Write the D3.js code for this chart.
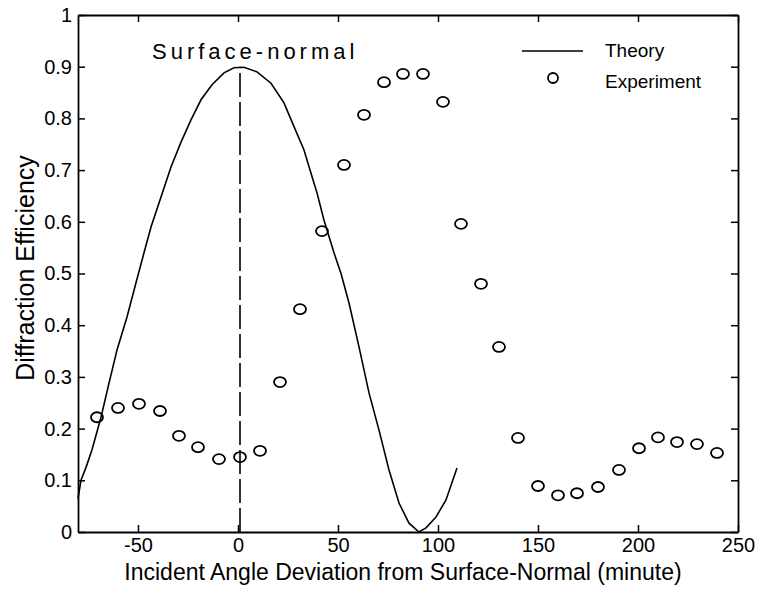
<!DOCTYPE html>
<html>
  <head>
    <meta charset="utf-8" />
    <title>Diffraction Efficiency</title>
    <script src="https://d3js.org/d3.v7.min.js"></script>
    <style>
      body {
        margin: 0;
        background: #fff;
      }
      svg {
        font-family: "Liberation Sans", Arial, sans-serif;
      }
    </style>
  </head>
  <body>
    <svg width="757" height="591"></svg>

    <script>
      // theory curve
      const theoryX = [-80, -78.5, -76, -73, -68.5, -64.5, -60.5, -55.5, -51, -47, -43.5, -38.5,
        -33.5, -28.5, -23.5, -18.5, -13, -7, -2, 3, 9.5, 16.5, 23, 28, 33, 36.5, 39.5, 43, 48,
        51.5, 55.5, 60.5, 65.5, 70.5, 75.5, 80.5, 85.5, 90.5, 94, 99, 104, 109.5];
      const theoryY = [0.065, 0.1, 0.125, 0.159, 0.222, 0.288, 0.352, 0.416, 0.482, 0.54, 0.59, 0.648,
        0.706, 0.754, 0.797, 0.836, 0.865, 0.888, 0.898, 0.899, 0.89, 0.868, 0.83, 0.784, 0.739, 0.694,
        0.656, 0.603, 0.54, 0.5, 0.443, 0.358, 0.269, 0.197, 0.12, 0.056, 0.017, 0.0, 0.008, 0.029,
        0.062, 0.124];

      // experiment points
      const expX = [-70.5, -60, -49.5, -39, -29.5, -20, -9.5, 1, 11, 21, 31, 42, 53, 63, 73, 82.5,
        92.5, 102.5, 111.5, 121.5, 130.5, 140, 150, 160, 169.5, 180, 190.5, 200.5, 210, 219.5, 229.5, 239.5];
      const expY = [0.222, 0.24, 0.248, 0.234, 0.186, 0.164, 0.141, 0.145, 0.157, 0.29, 0.431, 0.582,
        0.71, 0.807, 0.87, 0.886, 0.886, 0.832, 0.596, 0.48, 0.358, 0.182, 0.089, 0.071, 0.075, 0.087,
        0.12, 0.162, 0.183, 0.174, 0.17, 0.153];

      const xTicks = [-50, 0, 50, 100, 150, 200, 250];
      const yTicks = [0, 0.1, 0.2, 0.3, 0.4, 0.5, 0.6, 0.7, 0.8, 0.9, 1];
      const yTickLabels = ["0", "0.1", "0.2", "0.3", "0.4", "0.5", "0.6", "0.7", "0.8", "0.9", "1"];

      const normalX = 1;
      const normalTop = 0.9;

      const svg = d3.select("svg");

      const x = d3.scaleLinear().domain([-80, 250]).range([78, 738]);
      const y = d3.scaleLinear().domain([0, 1]).range([532, 15]);

      function styleAxis(sel) {
        sel.select(".domain").attr("stroke", "#000").attr("stroke-width", 1.8);
        sel.selectAll(".tick line").attr("stroke", "#000").attr("stroke-width", 1.5);
        sel.selectAll(".tick text").attr("fill", "#000").attr("font-size", 20);
      }

      svg.append("g")
        .attr("transform", `translate(0,${y(0)})`)
        .call(d3.axisBottom(x).tickValues(xTicks).tickFormat(d => String(d))
          .tickSizeInner(-7).tickSizeOuter(0).tickPadding(6))
        .call(styleAxis);

      svg.append("g")
        .attr("transform", `translate(0,${y(1)})`)
        .call(d3.axisTop(x).tickValues(xTicks).tickFormat("")
          .tickSizeInner(-7).tickSizeOuter(0))
        .call(styleAxis);

      svg.append("g")
        .attr("transform", `translate(${x(-80)},0)`)
        .call(d3.axisLeft(y).tickValues(yTicks).tickFormat((d, i) => yTickLabels[i])
          .tickSizeInner(-7).tickSizeOuter(0).tickPadding(6))
        .call(styleAxis);

      svg.append("g")
        .attr("transform", `translate(${x(250)},0)`)
        .call(d3.axisRight(y).tickValues(yTicks).tickFormat("")
          .tickSizeInner(-7).tickSizeOuter(0))
        .call(styleAxis);

      // surface-normal dashed line
      svg.append("line")
        .attr("x1", x(normalX)).attr("x2", x(normalX))
        .attr("y1", y(0)).attr("y2", y(normalTop))
        .attr("stroke", "#000")
        .attr("stroke-width", 1.6)
        .attr("stroke-dasharray", "24,5");

      // theory
      const line = d3.line()
        .x((d, i) => x(theoryX[i]))
        .y(d => y(d));

      svg.append("path")
        .datum(theoryY)
        .attr("d", line)
        .attr("fill", "none")
        .attr("stroke", "#000")
        .attr("stroke-width", 1.6);

      // experiment
      svg.append("g")
        .selectAll("ellipse")
        .data(expY)
        .join("ellipse")
        .attr("cx", (d, i) => x(expX[i]))
        .attr("cy", d => y(d))
        .attr("rx", 6)
        .attr("ry", 5)
        .attr("fill", "none")
        .attr("stroke", "#000")
        .attr("stroke-width", 1.8);

      // annotation
      svg.append("text")
        .attr("x", 152)
        .attr("y", 59)
        .attr("font-size", 22)
        .attr("letter-spacing", 4)
        .text("Surface-normal");

      // legend
      const legend = svg.append("g");
      legend.append("line")
        .attr("x1", 522).attr("x2", 583)
        .attr("y1", 51).attr("y2", 51)
        .attr("stroke", "#000")
        .attr("stroke-width", 1.3);
      legend.append("text")
        .attr("x", 605).attr("y", 57)
        .attr("font-size", 19)
        .text("Theory");
      legend.append("ellipse")
        .attr("cx", 553).attr("cy", 78)
        .attr("rx", 5).attr("ry", 5)
        .attr("fill", "none")
        .attr("stroke", "#000")
        .attr("stroke-width", 1.8);
      legend.append("text")
        .attr("x", 605).attr("y", 88)
        .attr("font-size", 19)
        .text("Experiment");

      // axis titles
      svg.append("text")
        .attr("x", 403)
        .attr("y", 580)
        .attr("text-anchor", "middle")
        .attr("font-size", 23)
        .text("Incident Angle Deviation from Surface-Normal (minute)");

      svg.append("text")
        .attr("transform", "translate(34,268) rotate(-90)")
        .attr("text-anchor", "middle")
        .attr("font-size", 25)
        .text("Diffraction Efficiency");
    </script>
  </body>
</html>
